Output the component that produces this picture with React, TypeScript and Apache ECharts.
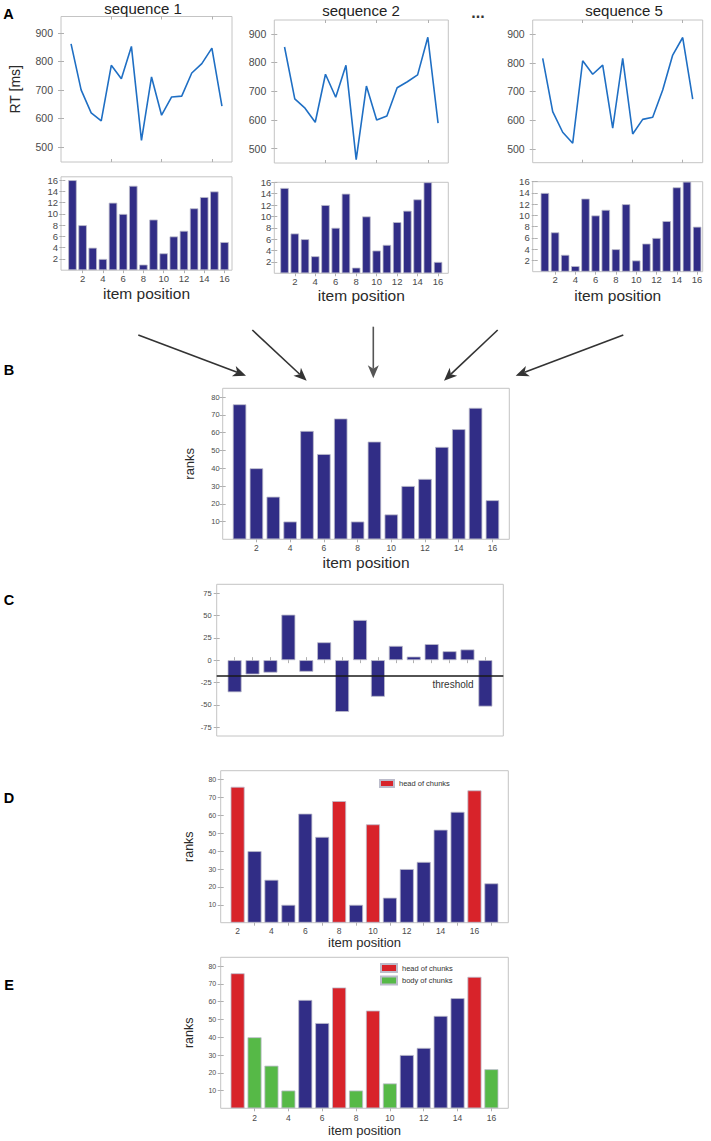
import React, { useEffect, useRef } from "react";
import * as echarts from "echarts";

// ---------- data ----------
const ITEM_POSITIONS = [1, 2, 3, 4, 5, 6, 7, 8, 9, 10, 11, 12, 13, 14, 15, 16];
const DIFF_POSITIONS = [1, 2, 3, 4, 5, 6, 7, 8, 9, 10, 11, 12, 13, 14, 15];

const SEQ1_RT = [861, 700, 619, 591, 786, 739, 852, 523, 745, 611, 675, 678, 759, 792, 846, 643];
const SEQ2_RT = [854, 673, 641, 592, 759, 679, 790, 462, 718, 600, 614, 712, 733, 757, 888, 589];
const SEQ5_RT = [815, 630, 558, 520, 807, 760, 792, 572, 815, 552, 603, 610, 705, 827, 888, 673];

const SEQ1_RANK = [16, 8, 4, 2, 12, 10, 15, 1, 9, 3, 6, 7, 11, 13, 14, 5];
const SEQ2_RANK = [15, 7, 6, 3, 12, 8, 14, 1, 10, 4, 5, 9, 11, 13, 16, 2];
const SEQ5_RANK = [14, 7, 3, 1, 13, 10, 11, 4, 12, 2, 5, 6, 9, 15, 16, 8];

const SUM_RANKS = [76, 40, 24, 10, 61, 48, 68, 10, 55, 14, 30, 34, 52, 62, 74, 22];
const RANK_DIFF = [-36, -16, -14, 51, -13, 20, -58, 45, -41, 16, 4, 18, 10, 12, -52];
const THRESHOLD = -17.6;

const HEAD_ITEMS = [1, 7, 9, 15];
const BODY_ITEMS = [2, 3, 4, 8, 10, 16];

const SEQ_TITLES = ["sequence 1", "sequence 2", "sequence 5"];
const RT_TICKS = [500, 600, 700, 800, 900];
const RT_X_TICKS = [5, 10, 15];
const RANK_TICKS = [2, 4, 6, 8, 10, 12, 14, 16];
const EVEN_ITEMS = [2, 4, 6, 8, 10, 12, 14, 16];
const ODD_ITEMS = [1, 3, 5, 7, 9, 11, 13, 15];
const SUM_TICKS = [10, 20, 30, 40, 50, 60, 70, 80];
const DIFF_TICKS = [-75, -50, -25, 0, 25, 50, 75];

// ---------- style ----------
const FONT = "'Liberation Sans', Arial, Helvetica, sans-serif";
const NAVY = "#312d86";
const RED = "#d8232a";
const GREEN = "#56b947";
const LINE_BLUE = "#1f6fc4";
const BOX = "#c4c4c4";
const LABEL = "#4a4a4a";
const BAR_EDGE = "#bcbccb";

type Panel = {
  left: number; top: number; width: number; height: number;
  xMin: number; xMax: number; xTicks: number[]; xLabels: number[]; xFmt?: (v: number) => string;
  yMin: number; yMax: number; yTicks: number[]; yLabels: number[];
  xFont: number; yFont: number; xMargin: number; yMargin: number;
  xName?: string; xNameGap?: number; xNameSize?: number;
  yName?: string; yNameGap?: number; yNameSize?: number;
};

function buildOption() {
  const grid: any[] = [];
  const xAxis: any[] = [];
  const yAxis: any[] = [];
  const series: any[] = [];

  const tick = (vals: number[]) => ({
    show: true, inside: true, length: 3,
    lineStyle: { color: "#b0b0b0", width: 1 }, customValues: vals,
  });

  function panel(p: Panel) {
    const gi = grid.length;
    grid.push({
      left: p.left, top: p.top, width: p.width, height: p.height,
      show: true, borderColor: BOX, borderWidth: 1, backgroundColor: "#ffffff",
    });
    const xi = xAxis.length;
    xAxis.push({
      type: "value", gridIndex: gi, position: "bottom", min: p.xMin, max: p.xMax,
      axisLine: { show: false }, splitLine: { show: false }, axisTick: tick(p.xTicks),
      axisLabel: {
        show: p.xLabels.length > 0, customValues: p.xLabels,
        formatter: p.xFmt ? p.xFmt : (v: number) => String(v),
        fontSize: p.xFont, color: LABEL, fontFamily: FONT, margin: p.xMargin,
      },
      name: p.xName, nameLocation: "middle", nameGap: p.xNameGap,
      nameTextStyle: { fontSize: p.xNameSize, color: "#2a2a2a", fontFamily: FONT },
    });
    xAxis.push({
      type: "value", gridIndex: gi, position: "top", min: p.xMin, max: p.xMax,
      axisLine: { show: false }, splitLine: { show: false }, axisTick: tick(p.xTicks),
      axisLabel: { show: false },
    });
    const yi = yAxis.length;
    yAxis.push({
      type: "value", gridIndex: gi, position: "left", min: p.yMin, max: p.yMax,
      axisLine: { show: false }, splitLine: { show: false }, axisTick: tick(p.yTicks),
      axisLabel: {
        show: true, customValues: p.yLabels, formatter: (v: number) => String(v),
        fontSize: p.yFont, color: LABEL, fontFamily: FONT, margin: p.yMargin,
      },
      name: p.yName, nameLocation: "middle", nameGap: p.yNameGap,
      nameTextStyle: { fontSize: p.yNameSize, color: "#2a2a2a", fontFamily: FONT },
    });
    yAxis.push({
      type: "value", gridIndex: gi, position: "right", min: p.yMin, max: p.yMax,
      axisLine: { show: false }, splitLine: { show: false }, axisTick: tick(p.yTicks),
      axisLabel: { show: false },
    });
    return { xi, yi };
  }

  const barStyle = (color: string) => ({ color, borderColor: BAR_EDGE, borderWidth: 0.8 });
  const pairs = (xs: number[], vs: number[]) => xs.map((x, i) => [x, vs[i]]);
  const pick = (items: number[]) =>
    ITEM_POSITIONS.filter((x) => items.includes(x)).map((x) => [x, SUM_RANKS[x - 1]]);
  const others = (excluded: number[]) =>
    ITEM_POSITIONS.filter((x) => !excluded.includes(x)).map((x) => [x, SUM_RANKS[x - 1]]);

  // ----- Panel A -----
  const aLines = [
    { left: 61, top: 16.5, width: 171, height: 145.5, yMin: 447, yMax: 957, data: SEQ1_RT, name: "RT [ms]" },
    { left: 274.3, top: 20, width: 174, height: 143, yMin: 450, yMax: 948, data: SEQ2_RT },
    { left: 532.7, top: 20, width: 170, height: 142.7, yMin: 452, yMax: 949, data: SEQ5_RT },
  ];
  aLines.forEach((c) => {
    const { xi, yi } = panel({
      left: c.left, top: c.top, width: c.width, height: c.height,
      xMin: 0, xMax: 17, xTicks: RT_X_TICKS, xLabels: [],
      yMin: c.yMin, yMax: c.yMax, yTicks: RT_TICKS, yLabels: RT_TICKS,
      xFont: 10, yFont: 10.5, xMargin: 4, yMargin: 8,
      yName: c.name, yNameGap: 39, yNameSize: 14,
    });
    series.push({
      type: "line", xAxisIndex: xi, yAxisIndex: yi, data: pairs(ITEM_POSITIONS, c.data),
      symbol: "none", showSymbol: false, silent: true,
      lineStyle: { color: LINE_BLUE, width: 1.6 },
    });
  });

  const aBars = [
    { left: 61, top: 176.8, width: 171, height: 93.4, xMin: -0.13, xMax: 16.74, yMax: 16.6, data: SEQ1_RANK, gap: 15 },
    { left: 274.3, top: 182.3, width: 174, height: 91, xMin: 0, xMax: 17, yMax: 16, data: SEQ2_RANK, gap: 14.5 },
    { left: 532.7, top: 181.7, width: 170, height: 90, xMin: -0.2, xMax: 16.55, yMax: 16, data: SEQ5_RANK, gap: 16 },
  ];
  aBars.forEach((c) => {
    const { xi, yi } = panel({
      left: c.left, top: c.top, width: c.width, height: c.height,
      xMin: c.xMin, xMax: c.xMax, xTicks: EVEN_ITEMS, xLabels: EVEN_ITEMS,
      yMin: 0, yMax: c.yMax, yTicks: RANK_TICKS, yLabels: RANK_TICKS,
      xFont: 9.5, yFont: 9.5, xMargin: 3, yMargin: 3,
      xName: "item position", xNameGap: c.gap, xNameSize: 15.5,
    });
    series.push({
      type: "bar", xAxisIndex: xi, yAxisIndex: yi, data: pairs(ITEM_POSITIONS, c.data),
      barWidth: 8.5, itemStyle: barStyle(NAVY), silent: true,
    });
  });

  // ----- Panel B -----
  {
    const { xi, yi } = panel({
      left: 222.7, top: 388.3, width: 286.6, height: 151,
      xMin: 0, xMax: 17, xTicks: EVEN_ITEMS, xLabels: EVEN_ITEMS,
      yMin: 0, yMax: 85, yTicks: SUM_TICKS, yLabels: SUM_TICKS,
      xFont: 8.5, yFont: 7.5, xMargin: 4, yMargin: 3,
      xName: "item position", xNameGap: 15, xNameSize: 15.5,
      yName: "ranks", yNameGap: 27, yNameSize: 13,
    });
    series.push({
      type: "bar", xAxisIndex: xi, yAxisIndex: yi, data: pairs(ITEM_POSITIONS, SUM_RANKS),
      barWidth: 13.5, itemStyle: barStyle(NAVY), silent: true,
    });
  }

  // ----- Panel C -----
  {
    const { xi, yi } = panel({
      left: 216.7, top: 584.3, width: 286.6, height: 151.7,
      xMin: 0, xMax: 16, xTicks: DIFF_POSITIONS, xLabels: [],
      yMin: -85, yMax: 85, yTicks: DIFF_TICKS, yLabels: DIFF_TICKS,
      xFont: 8, yFont: 7.5, xMargin: 4, yMargin: 5,
    });
    series.push({
      type: "bar", xAxisIndex: xi, yAxisIndex: yi, data: pairs(DIFF_POSITIONS, RANK_DIFF),
      barWidth: 14, itemStyle: barStyle(NAVY), silent: true,
      markLine: {
        silent: true, symbol: "none", animation: false,
        data: [{ yAxis: THRESHOLD }],
        lineStyle: { color: "#1a1a1a", width: 1.5, type: "solid" },
        label: { show: false },
      },
    });
  }

  // ----- Panel D -----
  {
    const { xi, yi } = panel({
      left: 220.7, top: 770.7, width: 287.6, height: 152,
      xMin: 0, xMax: 17, xTicks: EVEN_ITEMS, xLabels: ODD_ITEMS,
      xFmt: (v: number) => String(v + 1),
      yMin: 0, yMax: 85, yTicks: SUM_TICKS, yLabels: SUM_TICKS,
      xFont: 8.5, yFont: 7, xMargin: 3.5, yMargin: 4.5,
      xName: "item position", xNameGap: 13.5, xNameSize: 13,
      yName: "ranks", yNameGap: 25.5, yNameSize: 12.5,
    });
    series.push({
      name: "head of chunks", type: "bar", xAxisIndex: xi, yAxisIndex: yi, data: pick(HEAD_ITEMS),
      barWidth: 14, barGap: "-100%", itemStyle: barStyle(RED), silent: true,
    });
    series.push({
      name: "other items", type: "bar", xAxisIndex: xi, yAxisIndex: yi, data: others(HEAD_ITEMS),
      barWidth: 14, barGap: "-100%", itemStyle: barStyle(NAVY), silent: true,
    });
  }

  // ----- Panel E -----
  {
    const { xi, yi } = panel({
      left: 220.7, top: 957.3, width: 287.6, height: 151,
      xMin: 0, xMax: 17, xTicks: EVEN_ITEMS, xLabels: EVEN_ITEMS,
      yMin: 0, yMax: 85, yTicks: SUM_TICKS, yLabels: SUM_TICKS,
      xFont: 8.5, yFont: 7, xMargin: 5, yMargin: 4.5,
      xName: "item position", xNameGap: 16, xNameSize: 13,
      yName: "ranks", yNameGap: 25.5, yNameSize: 12.5,
    });
    series.push({
      name: "head of chunks", type: "bar", xAxisIndex: xi, yAxisIndex: yi, data: pick(HEAD_ITEMS),
      barWidth: 14, barGap: "-100%", itemStyle: barStyle(RED), silent: true,
    });
    series.push({
      name: "body of chunks", type: "bar", xAxisIndex: xi, yAxisIndex: yi, data: pick(BODY_ITEMS),
      barWidth: 14, barGap: "-100%", itemStyle: barStyle(GREEN), silent: true,
    });
    series.push({
      name: "other items", type: "bar", xAxisIndex: xi, yAxisIndex: yi,
      data: others([...HEAD_ITEMS, ...BODY_ITEMS]),
      barWidth: 14, barGap: "-100%", itemStyle: barStyle(NAVY), silent: true,
    });
  }

  // ----- graphics: titles, panel letters, arrows, threshold label -----
  const txt = (text: string, x: number, y: number, size: number, extra: any = {}) => ({
    type: "text", x, y, silent: true,
    style: {
      text, fontSize: size, fontFamily: FONT, fill: extra.fill || "#222",
      fontWeight: extra.weight || "normal", align: extra.align || "center", verticalAlign: "middle",
    },
  });

  const graphic: any[] = [];
  graphic.push(txt(SEQ_TITLES[0], 143, 8.5, 15));
  graphic.push(txt(SEQ_TITLES[1], 361, 10.5, 15));
  graphic.push(txt(SEQ_TITLES[2], 624, 10, 15));
  graphic.push(txt("...", 478, 12, 16, { weight: "bold", fill: "#333" }));
  graphic.push(txt("A", 8.5, 13.5, 14.5, { weight: "bold", fill: "#000" }));
  graphic.push(txt("B", 9, 370, 14.5, { weight: "bold", fill: "#000" }));
  graphic.push(txt("C", 9, 600, 14.5, { weight: "bold", fill: "#000" }));
  graphic.push(txt("D", 9, 798, 14.5, { weight: "bold", fill: "#000" }));
  graphic.push(txt("E", 9, 985, 14.5, { weight: "bold", fill: "#000" }));
  graphic.push(txt("threshold", 453, 684.5, 10, { fill: "#333" }));

  const arrows = [
    { from: [138.3, 335], to: [246, 375.7], color: "#333333" },
    { from: [252.3, 330], to: [306.7, 380.7], color: "#333333" },
    { from: [373.3, 326.7], to: [373.3, 378.3], color: "#555555" },
    { from: [497.7, 330], to: [444, 380.7], color: "#333333" },
    { from: [623.3, 335], to: [515.7, 375.7], color: "#333333" },
  ];
  arrows.forEach((a) => {
    const [x0, y0] = a.from;
    const [x1, y1] = a.to;
    const len = Math.hypot(x1 - x0, y1 - y0);
    const dx = (x1 - x0) / len;
    const dy = (y1 - y0) / len;
    const headLen = 13;
    const half = 5.5;
    const bx = x1 - dx * headLen;
    const by = y1 - dy * headLen;
    const nx = x1 - dx * 9.5;
    const ny = y1 - dy * 9.5;
    graphic.push({
      type: "line", silent: true,
      shape: { x1: x0, y1: y0, x2: nx, y2: ny },
      style: { stroke: a.color, lineWidth: 1.6 },
    });
    graphic.push({
      type: "polygon", silent: true,
      shape: {
        points: [
          [x1, y1],
          [bx - dy * half, by + dx * half],
          [nx, ny],
          [bx + dy * half, by - dx * half],
        ],
      },
      style: { fill: a.color },
    });
  });

  const legend = [
    {
      left: 379, top: 779, data: ["head of chunks"], selectedMode: false, padding: 0,
      itemWidth: 14, itemHeight: 7, icon: "rect", itemGap: 4,
      textStyle: { fontSize: 7.5, color: "#333", fontFamily: FONT, lineHeight: 9 },
    },
    {
      left: 380, top: 963, orient: "vertical", data: ["head of chunks", "body of chunks"],
      selectedMode: false, padding: 0, itemWidth: 16, itemHeight: 8, icon: "rect", itemGap: 2.6,
      textStyle: { fontSize: 7.5, color: "#333", fontFamily: FONT, lineHeight: 8 },
    },
  ];

  return {
    animation: false,
    backgroundColor: "#ffffff",
    textStyle: { fontFamily: FONT },
    grid, xAxis, yAxis, series, legend, graphic,
  };
}

export default function App() {
  const ref = useRef<HTMLDivElement>(null);
  useEffect(() => {
    if (!ref.current) return;
    const chart = echarts.init(ref.current, undefined, { renderer: "svg" });
    chart.setOption(buildOption());
    return () => chart.dispose();
  }, []);
  return (
    <div
      ref={ref}
      style={{ position: "absolute", left: 0, top: 0, width: 711, height: 1141, background: "#fff" }}
    />
  );
}
